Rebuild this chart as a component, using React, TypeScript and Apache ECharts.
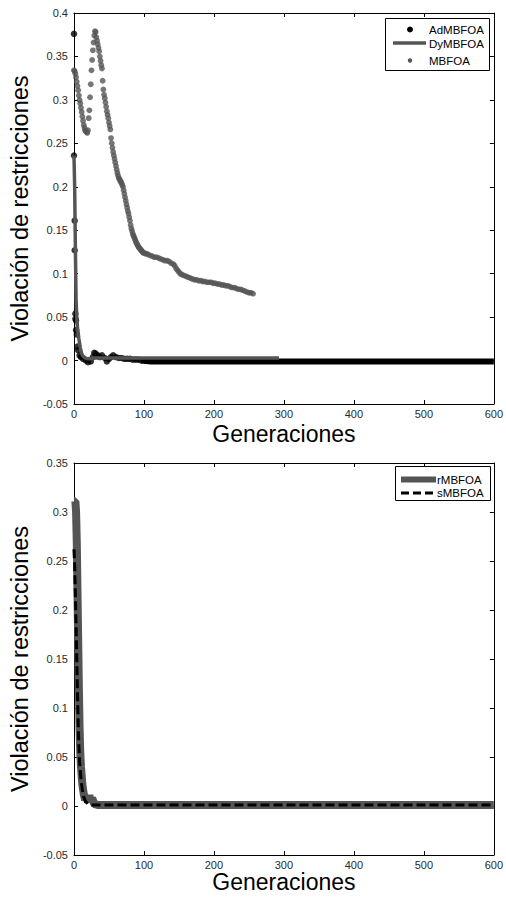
import React, { useEffect, useRef } from "react";
import * as echarts from "echarts";

const FONT = '"Liberation Sans", Arial, Helvetica, sans-serif';
const GREY = "#555555";

// ---- Upper panel -------------------------------------------------------
// AdMBFOA: isolated best-of-generation points (black dots)
const adMbfoaPoints: [number, number][] = [
  [0, 0.376], [0, 0.236], [1, 0.161], [1, 0.127], [2, 0.054], [2, 0.048],
  [3, 0.046], [3, 0.035], [4, 0.03], [5, 0.016], [6, 0.012], [8, 0.006],
  [10, 0.004], [13, 0.002], [17, 0.0], [20, -0.002], [24, -0.001],
  [27, 0.004], [29, 0.009], [31, 0.008], [34, 0.006], [37, 0.004],
  [40, 0.006], [44, 0.003], [47, -0.001], [50, 0.002], [53, 0.004],
  [56, 0.006], [60, 0.004], [64, 0.003], [68, 0.003], [72, 0.002],
  [76, 0.002], [80, 0.002], [84, 0.001], [88, 0.001], [92, 0.001], [96, 0.0],
];
// AdMBFOA once settled: the dots merge into a continuous band
const adMbfoaSettled: [number, number][] = [
  [96, 0.0], [110, -0.001], [200, -0.001], [300, -0.001], [400, -0.001],
  [500, -0.001], [600, -0.001],
];
// DyMBFOA (grey solid line)
const dyMbfoa: [number, number][] = [
  [0, 0.236], [1, 0.2], [2, 0.13], [3, 0.07], [4, 0.05], [5, 0.038],
  [7, 0.025], [9, 0.015], [11, 0.008], [13, 0.005], [16, 0.003], [20, 0.002],
  [30, 0.003], [60, 0.003], [100, 0.003], [150, 0.003], [200, 0.003],
  [250, 0.003], [293, 0.003],
];
// MBFOA (grey dots)
const mbfoa: [number, number][] = [
  [0, 0.334], [1, 0.333], [2, 0.33], [3, 0.326], [4, 0.321], [5, 0.316],
  [6, 0.311], [7, 0.305], [8, 0.3], [9, 0.296], [10, 0.291], [11, 0.286],
  [12, 0.281], [13, 0.276], [14, 0.271], [15, 0.268], [16, 0.265],
  [17, 0.264], [18, 0.263], [19, 0.262], [20, 0.265], [21, 0.279],
  [22, 0.288], [23, 0.303], [24, 0.318], [25, 0.334], [26, 0.346],
  [27, 0.357], [28, 0.366], [29, 0.374], [30, 0.379], [31, 0.378],
  [32, 0.372], [33, 0.368], [34, 0.364], [35, 0.36], [36, 0.356],
  [37, 0.35], [38, 0.345], [39, 0.34], [40, 0.336], [41, 0.322],
  [42, 0.312], [43, 0.306], [44, 0.302], [45, 0.297], [46, 0.292],
  [47, 0.287], [48, 0.283], [49, 0.279], [50, 0.274], [51, 0.27],
  [52, 0.266], [53, 0.256], [54, 0.25], [55, 0.245], [56, 0.24],
  [57, 0.236], [58, 0.232], [59, 0.228], [60, 0.224], [61, 0.22],
  [62, 0.216], [63, 0.213], [64, 0.21], [65, 0.209], [66, 0.207],
  [67, 0.206], [68, 0.204], [69, 0.202], [70, 0.2], [71, 0.196],
  [72, 0.192], [73, 0.188], [74, 0.184], [75, 0.18], [76, 0.176],
  [77, 0.172], [78, 0.169], [79, 0.165], [80, 0.161], [81, 0.156],
  [82, 0.152], [83, 0.149], [84, 0.146], [85, 0.144], [86, 0.142],
  [87, 0.14], [88, 0.138], [89, 0.136], [90, 0.134], [91, 0.133],
  [92, 0.131], [93, 0.13], [94, 0.129], [95, 0.128], [96, 0.127],
  [97, 0.126], [98, 0.125], [99, 0.124], [100, 0.124], [102, 0.123],
  [104, 0.123], [106, 0.122], [109, 0.121], [112, 0.12],
  [115, 0.119], [118, 0.119], [121, 0.118], [124, 0.117], [127, 0.116],
  [130, 0.115], [133, 0.115], [136, 0.114], [139, 0.112], [142, 0.111],
  [144, 0.109], [146, 0.106], [148, 0.104], [150, 0.102], [152, 0.1],
  [154, 0.099], [157, 0.098],
  [160, 0.097], [163, 0.096], [166, 0.095], [169, 0.094], [172, 0.093],
  [175, 0.093], [178, 0.092], [181, 0.092], [184, 0.091], [187, 0.091],
  [190, 0.09], [193, 0.09], [196, 0.09], [199, 0.089], [202, 0.089],
  [205, 0.088], [208, 0.088], [211, 0.087], [214, 0.087], [217, 0.086],
  [220, 0.086], [223, 0.085], [226, 0.084], [229, 0.084], [232, 0.083],
  [235, 0.082], [238, 0.082], [241, 0.081], [244, 0.08], [247, 0.079],
  [250, 0.078], [253, 0.078], [256, 0.077],
];

// ---- Lower panel -------------------------------------------------------
// rMBFOA (thick grey line)
const rMbfoa: [number, number][] = [
  [0, 0.311], [2, 0.311], [3, 0.3], [4, 0.27], [5, 0.22], [6, 0.17],
  [7, 0.12], [8, 0.08], [9, 0.055], [10, 0.04], [12, 0.022], [14, 0.012],
  [16, 0.006], [18, 0.009], [20, 0.004], [22, 0.011], [24, 0.004],
  [26, 0.008], [29, 0.002], [35, 0.001], [100, 0.001], [200, 0.001],
  [300, 0.001], [400, 0.001], [500, 0.001], [600, 0.001],
];
// sMBFOA (black dashed line)
const sMbfoa: [number, number][] = [
  [0, 0.262], [1, 0.245], [2, 0.215], [3, 0.185], [4, 0.15], [5, 0.115],
  [6, 0.085], [7, 0.062], [8, 0.045], [10, 0.028], [12, 0.016], [14, 0.009],
  [17, 0.004], [21, 0.002], [26, 0.001], [100, 0.001], [200, 0.001],
  [300, 0.001], [400, 0.001], [500, 0.001], [600, 0.001],
];

const GEN_MIN = 0;
const GEN_MAX = 600;
const GEN_STEP = 100;
const VIOL_STEP = 0.05;
const TOP_Y_RANGE = [-0.05, 0.4];
const BOTTOM_Y_RANGE = [-0.05, 0.35];

const X_TITLE = "Generaciones";
const Y_TITLE = "Violación de restricciones";

const GRIDS = [
  { left: 72, top: 13, width: 424, height: 391 },
  { left: 72, top: 463, width: 424, height: 392 },
];

const axisLine = { show: true, onZero: false, lineStyle: { color: "#000", width: 1 } };
const axisTick = { show: true, inside: true, length: 4, lineStyle: { color: "#000", width: 1 } };
const tickLabel = { color: "#2a2a2a", fontSize: 11, fontFamily: FONT };

function xAxisPair(gridIndex: number, nameGap: number) {
  const base = {
    type: "value",
    gridIndex,
    min: GEN_MIN,
    max: GEN_MAX,
    interval: GEN_STEP,
    axisLine,
    axisTick,
    splitLine: { show: false },
  };
  return [
    {
      ...base,
      position: "bottom",
      axisLabel: { ...tickLabel, margin: 4, showMinLabel: true, showMaxLabel: true },
      name: X_TITLE,
      nameLocation: "middle",
      nameGap,
      nameTextStyle: { fontSize: 23, fontFamily: FONT, color: "#000" },
    },
    { ...base, position: "top", axisLabel: { show: false } },
  ];
}

function yAxisPair(gridIndex: number, range: number[]) {
  const base = {
    type: "value",
    gridIndex,
    min: range[0],
    max: range[1],
    interval: VIOL_STEP,
    axisLine,
    axisTick,
    splitLine: { show: false },
  };
  return [
    {
      ...base,
      position: "left",
      axisLabel: {
        ...tickLabel,
        margin: 6,
        formatter: (v: number) => String(Number(v.toFixed(2))),
      },
      name: Y_TITLE,
      nameLocation: "middle",
      nameGap: 31,
      nameTextStyle: { fontSize: 23.5, fontFamily: FONT, color: "#000" },
    },
    { ...base, position: "right", axisLabel: { show: false } },
  ];
}

function legendText(x: number, y: number, text: string) {
  return {
    type: "text",
    x,
    y,
    z: 101,
    style: {
      text,
      fontSize: 11.5,
      fontFamily: FONT,
      fill: "#000",
      verticalAlign: "middle",
      align: "left",
    },
  };
}

export default function App() {
  const ref = useRef<HTMLDivElement>(null);

  useEffect(() => {
    if (!ref.current) return;
    const chart = echarts.init(ref.current, undefined, { renderer: "svg" });

    chart.setOption({
      animation: false,
      backgroundColor: "#fff",
      grid: GRIDS.map((g) => ({ ...g, containLabel: false })),
      xAxis: [...xAxisPair(0, 18), ...xAxisPair(1, 8)],
      yAxis: [...yAxisPair(0, TOP_Y_RANGE), ...yAxisPair(1, BOTTOM_Y_RANGE)],
      series: [
        {
          type: "scatter",
          name: "AdMBFOA",
          xAxisIndex: 0,
          yAxisIndex: 0,
          data: adMbfoaPoints,
          symbol: "circle",
          symbolSize: 6.5,
          itemStyle: { color: "#000" },
          clip: false,
          z: 2,
        },
        {
          type: "line",
          name: "AdMBFOA",
          xAxisIndex: 0,
          yAxisIndex: 0,
          data: adMbfoaSettled,
          symbol: "none",
          lineStyle: { color: "#000", width: 6 },
          z: 2,
        },
        {
          type: "line",
          name: "DyMBFOA",
          xAxisIndex: 0,
          yAxisIndex: 0,
          data: dyMbfoa,
          symbol: "none",
          lineStyle: { color: GREY, width: 3.5 },
          z: 3,
        },
        {
          type: "scatter",
          name: "MBFOA",
          xAxisIndex: 0,
          yAxisIndex: 0,
          data: mbfoa,
          symbol: "circle",
          symbolSize: 5.8,
          itemStyle: { color: GREY },
          clip: false,
          z: 4,
        },
        {
          type: "line",
          name: "rMBFOA",
          xAxisIndex: 2,
          yAxisIndex: 2,
          data: rMbfoa,
          symbol: "none",
          lineStyle: { color: GREY, width: 8 },
          z: 2,
        },
        {
          type: "line",
          name: "sMBFOA",
          xAxisIndex: 2,
          yAxisIndex: 2,
          data: sMbfoa,
          symbol: "none",
          lineStyle: { color: "#000", width: 3, type: [9, 4] },
          z: 3,
        },
      ],
      graphic: [
        // upper legend
        {
          type: "rect",
          z: 100,
          shape: { x: 385.5, y: 18.5, width: 104, height: 52 },
          style: { fill: "#fff", stroke: "#000", lineWidth: 1 },
        },
        { type: "circle", z: 101, shape: { cx: 410, cy: 29.5, r: 3 }, style: { fill: "#000" } },
        {
          type: "line",
          z: 101,
          shape: { x1: 393, y1: 43, x2: 426, y2: 43 },
          style: { stroke: GREY, lineWidth: 3.5 },
        },
        { type: "circle", z: 101, shape: { cx: 410, cy: 60.5, r: 2.2 }, style: { fill: GREY } },
        legendText(429, 29.5, "AdMBFOA"),
        legendText(429, 43.5, "DyMBFOA"),
        legendText(429, 60.5, "MBFOA"),
        // lower legend
        {
          type: "rect",
          z: 100,
          shape: { x: 395.5, y: 466.5, width: 95, height: 34 },
          style: { fill: "#fff", stroke: "#000", lineWidth: 1 },
        },
        {
          type: "line",
          z: 101,
          shape: { x1: 401, y1: 479.5, x2: 436, y2: 479.5 },
          style: { stroke: GREY, lineWidth: 6 },
        },
        {
          type: "line",
          z: 101,
          shape: { x1: 401, y1: 493, x2: 436, y2: 493 },
          style: { stroke: "#000", lineWidth: 3, lineDash: [8, 4] },
        },
        legendText(437, 479.5, "rMBFOA"),
        legendText(437, 493, "sMBFOA"),
      ],
    });

    return () => chart.dispose();
  }, []);

  return (
    <div
      ref={ref}
      style={{ position: "fixed", left: 0, top: 0, width: 506, height: 901, background: "#fff" }}
    />
  );
}
